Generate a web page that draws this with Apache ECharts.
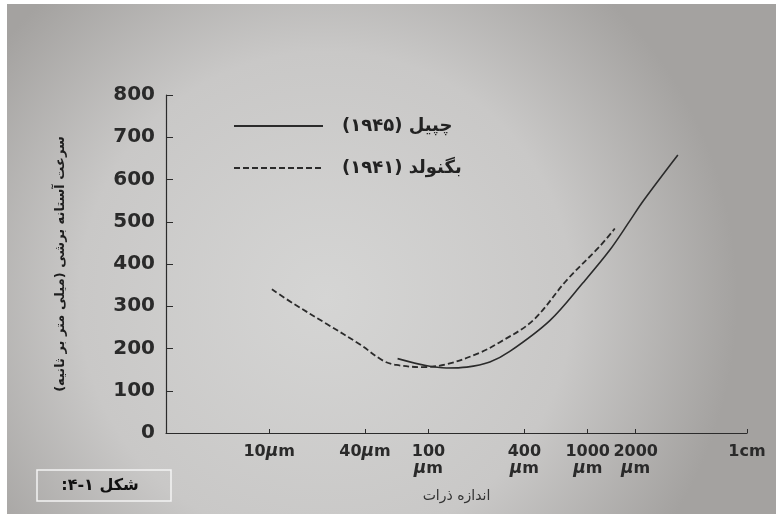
<!DOCTYPE html>
<html>
<head>
<meta charset="utf-8">
<script src="https://cdn.jsdelivr.net/npm/echarts@6/dist/echarts.min.js"></script>
<style>
  html, body { margin: 0; padding: 0; background: #fff; }
  #chart { width: 776px; height: 514px; }
</style>
</head>
<body>
<div id="chart"></div>
<script>
// particle size in micrometres (x) and threshold shear velocity in mm/s (y)
const chepilSize = [64, 98, 130, 174, 243, 324, 578, 931, 1376, 1837, 2218, 3680];
const chepilSpeed = [176, 159, 154, 156, 168, 193, 266, 355, 433, 502, 548, 658];
const bagnoldSize = [10.4, 14.1, 23, 37, 52, 63, 92, 131, 210, 281, 452, 739, 1191, 1479];
const bagnoldSpeed = [340, 307, 258, 210, 171, 161, 156, 163, 190, 215, 266, 362, 442, 484];

const xTicks = [10, 40, 100, 400, 1000, 2000, 10000];
const xTickLabels = ['10{i|µ}m', '40{i|µ}m', '100\n{i|µ}m', '400\n{i|µ}m', '1000\n{i|µ}m', '2000\n{i|µ}m', '1cm'];

// RTL embedding so the Persian strings come out in the right visual order
const rtl = s => '\u202B' + s + '\u202C';
const chepilName = rtl('چپیل (۱۹۴۵)');
const bagnoldName = rtl('بگنولد (۱۹۴۱)');

const ink = '#2b2b2b';

let myChart = echarts.init(document.getElementById('chart'));
let option = {
  backgroundColor: {
    type: 'radial', x: 0.42, y: 0.58, r: 0.8,
    colorStops: [
      { offset: 0, color: '#d5d5d4' },
      { offset: 0.6, color: '#c9c8c7' },
      { offset: 1, color: '#a4a2a0' }
    ]
  },
  animation: false,
  grid: { left: 166, right: 29, top: 95, bottom: 81 },
  legend: {
    left: 228, top: 112, orient: 'vertical', itemGap: 24,
    itemWidth: 89, itemHeight: 14,
    itemStyle: { opacity: 0 },
    textStyle: { fontFamily: 'DejaVu Sans', fontWeight: 'bold', fontSize: 18, color: '#222', padding: [0, 0, 0, 14] },
    data: [chepilName, bagnoldName]
  },
  xAxis: {
    type: 'log', logBase: 10, min: 2.25, max: 10000,
    name: rtl('اندازه ذرات'), nameLocation: 'middle', nameGap: 56,
    nameTextStyle: { fontFamily: 'DejaVu Sans', fontSize: 14, color: '#333' },
    axisLine: { lineStyle: { color: ink, width: 1.2 } },
    axisTick: { inside: true, length: 4, customValues: xTicks, lineStyle: { color: ink } },
    axisLabel: {
      customValues: xTicks,
      formatter: (v) => xTickLabels[xTicks.indexOf(v)] || '',
      fontFamily: 'DejaVu Sans', fontWeight: 'bold', fontSize: 16, color: '#2a2a2a',
      lineHeight: 17, margin: 10, verticalAlign: 'top',
      rich: { i: { fontFamily: 'DejaVu Sans', fontStyle: 'italic', fontSize: 17, color: '#2a2a2a', lineHeight: 17 } }
    },
    splitLine: { show: false }
  },
  yAxis: {
    type: 'value', min: 0, max: 800, interval: 100,
    name: 'سرعت آستانه برشی (میلی متر بر ثانیه)', nameLocation: 'middle', nameGap: 99,
    nameTextStyle: { fontFamily: 'DejaVu Sans', fontWeight: 'bold', fontSize: 13, color: '#1e1e1e' },
    axisLine: { show: true, lineStyle: { color: ink, width: 1.2 } },
    axisTick: { show: true, inside: true, length: 7, lineStyle: { color: ink } },
    axisLabel: {
      fontFamily: 'DejaVu Sans', fontWeight: 'bold', fontSize: 20, color: '#2a2a2a', margin: 11
    },
    splitLine: { show: false }
  },
  series: [
    {
      name: chepilName, type: 'line', smooth: 0.35, symbol: 'none',
      lineStyle: { color: ink, width: 1.6, type: 'solid' },
      itemStyle: { color: ink },
      data: chepilSize.map((s, i) => [s, chepilSpeed[i]])
    },
    {
      name: bagnoldName, type: 'line', smooth: 0.35, symbol: 'none',
      lineStyle: { color: ink, width: 1.8, type: [6, 3] },
      itemStyle: { color: ink },
      data: bagnoldSize.map((s, i) => [s, bagnoldSpeed[i]])
    }
  ],
  graphic: [
    // white scan borders
    { type: 'rect', shape: { x: 0, y: 0, width: 776, height: 4 }, style: { fill: '#fff' } },
    { type: 'rect', shape: { x: 0, y: 0, width: 7, height: 514 }, style: { fill: '#fff' } },
    // figure caption box
    {
      type: 'rect', shape: { x: 37, y: 470, width: 134, height: 31 },
      style: { fill: 'transparent', stroke: '#f4f4f4', lineWidth: 1.5 }
    },
    {
      type: 'text', x: 100, y: 486,
      style: {
        text: rtl('شکل ۱-۴:'), fontFamily: 'DejaVu Sans', fontWeight: 'bold', fontSize: 16,
        fill: '#111', align: 'center', verticalAlign: 'middle'
      }
    }
  ]
};
myChart.setOption(option);
window.addEventListener('resize', () => { myChart.resize(); });
</script>
</body>
</html>
